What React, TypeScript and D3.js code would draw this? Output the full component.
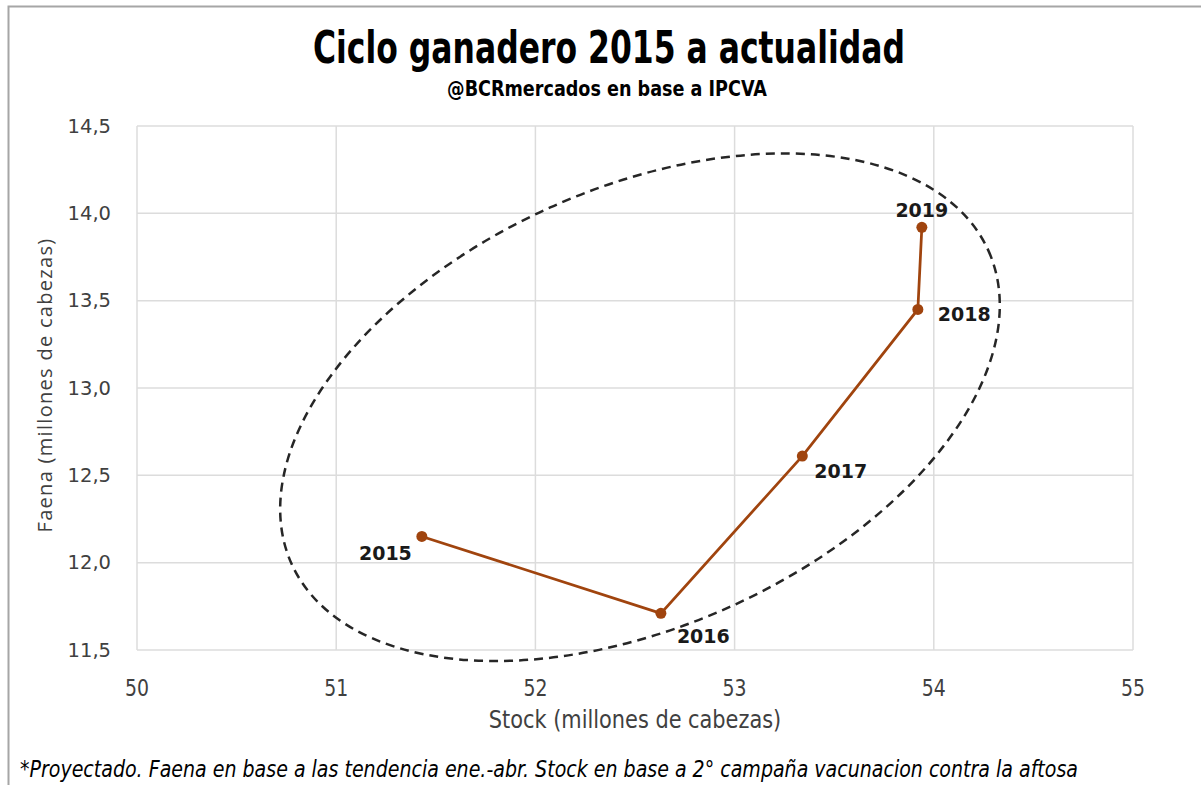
import React, { useEffect, useRef } from 'react';
import * as d3 from 'd3';

// --- Data ---
const years = ['2015', '2016', '2017', '2018', '2019'];
const stock = [51.43, 52.63, 53.34, 53.92, 53.94];
const faena = [12.15, 11.71, 12.61, 13.45, 13.92];

const xTicks = [50, 51, 52, 53, 54, 55];
const yTicks = [11.5, 12.0, 12.5, 13.0, 13.5, 14.0, 14.5];

// label offsets per year: [dx, dy, anchor]
const labelPos: [number, number, string][] = [
    [-10, 24, 'end'],
    [16, 30, 'start'],
    [12, 22, 'start'],
    [20, 12, 'start'],
    [0, -10, 'middle'],
];

// dashed ellipse annotation: centre in data units, radii in px, tilt in degrees
const ellipseCenter = { x: 52.525, y: 12.89 };
const ellipseRadii = { rx: 382, ry: 219 };
const ellipseTilt = -24.2;

const W = 1201;
const H = 785;
const margin = { left: 137, right: 68, top: 126, bottom: 135 };

const lineColor = '#A0440E';
const gridColor = '#dcdcdc';
const sans = '"DejaVu Sans", sans-serif';

// the reference uses a narrow face; squeeze DejaVu horizontally instead
const narrowText = (
    parent: d3.Selection<SVGSVGElement, unknown, null, undefined>,
    cx: number,
    baseline: number,
    squeeze: number,
    anchor: string,
) => parent.append('text')
    .attr('transform', `translate(${cx}, ${baseline}) scale(${squeeze}, 1)`)
    .attr('text-anchor', anchor)
    .style('font-family', sans);

const drawChart = (svgNode: SVGSVGElement) => {
    const svg = d3.select(svgNode);
    svg.selectAll('*').remove();

    const innerW = W - margin.left - margin.right;
    const innerH = H - margin.top - margin.bottom;

    const x = d3.scaleLinear().domain([50, 55]).range([margin.left, margin.left + innerW]);
    const y = d3.scaleLinear().domain([11.5, 14.5]).range([margin.top + innerH, margin.top]);

    svg.append('rect').attr('width', W).attr('height', H).attr('fill', '#fff');

    // frame (only top/left visible in the crop)
    svg.append('path')
        .attr('d', `M8.5,${H} L8.5,6.5 L${W},6.5`)
        .attr('fill', 'none')
        .attr('stroke', '#a6a6a6')
        .attr('stroke-width', 2);

    // --- Grid ---
    const grid = svg.append('g');
    xTicks.forEach(t => {
        grid.append('line')
            .attr('x1', x(t)).attr('x2', x(t))
            .attr('y1', y(14.5)).attr('y2', y(11.5))
            .attr('stroke', gridColor).attr('stroke-width', 1.5);
    });
    yTicks.forEach(t => {
        grid.append('line')
            .attr('x1', x(50)).attr('x2', x(55))
            .attr('y1', y(t)).attr('y2', y(t))
            .attr('stroke', gridColor).attr('stroke-width', 1.5);
    });

    // --- Axis labels ---
    xTicks.forEach(t => {
        narrowText(svg, x(t), y(11.5) + 46, 0.82, 'middle')
            .style('font-size', '23px')
            .style('fill', '#404040')
            .text(String(t));
    });
    yTicks.forEach(t => {
        svg.append('text')
            .attr('x', x(50) - 26).attr('y', y(t))
            .attr('dy', '0.35em')
            .attr('text-anchor', 'end')
            .style('font-family', sans)
            .style('font-size', '19.5px')
            .style('fill', '#404040')
            .text(d3.format('.1f')(t).replace('.', ','));
    });

    narrowText(svg, x(52.5), 728, 0.87, 'middle')
        .style('font-size', '24px')
        .style('fill', '#404040')
        .text('Stock (millones de cabezas)');

    svg.append('text')
        .attr('transform', `translate(52, ${y(13) - 3}) rotate(-90)`)
        .attr('text-anchor', 'middle')
        .style('font-family', '"Open Sans", sans-serif')
        .style('font-size', '20px')
        .style('letter-spacing', '1.3px')
        .style('fill', '#404040')
        .text('Faena (millones de cabezas)');

    // --- Titles ---
    narrowText(svg, 609, 63, 0.715, 'middle')
        .style('font-weight', 'bold')
        .style('font-size', '44px')
        .style('fill', '#000')
        .text('Ciclo ganadero 2015 a actualidad');

    narrowText(svg, 607, 96, 0.8, 'middle')
        .style('font-weight', 'bold')
        .style('font-size', '22px')
        .style('fill', '#000')
        .text('@BCRmercados en base a IPCVA');

    // --- Ellipse annotation ---
    svg.append('ellipse')
        .attr('cx', 0).attr('cy', 0)
        .attr('rx', ellipseRadii.rx).attr('ry', ellipseRadii.ry)
        .attr('transform', `translate(${x(ellipseCenter.x)}, ${y(ellipseCenter.y)}) rotate(${ellipseTilt})`)
        .attr('fill', 'none')
        .attr('stroke', '#262626')
        .attr('stroke-width', 2.5)
        .attr('stroke-dasharray', '9 6');

    // --- Series ---
    const pts = years.map((yr, i) => ({ yr, sx: stock[i], fy: faena[i], i }));
    const line = d3.line<typeof pts[number]>()
        .x(d => x(d.sx))
        .y(d => y(d.fy));

    svg.append('path')
        .datum(pts)
        .attr('d', line)
        .attr('fill', 'none')
        .attr('stroke', lineColor)
        .attr('stroke-width', 2.75);

    svg.selectAll('.pt')
        .data(pts)
        .enter()
        .append('circle')
        .attr('cx', d => x(d.sx))
        .attr('cy', d => y(d.fy))
        .attr('r', 5.5)
        .attr('fill', lineColor);

    svg.selectAll('.lbl')
        .data(pts)
        .enter()
        .append('text')
        .attr('x', d => x(d.sx) + labelPos[d.i][0])
        .attr('y', d => y(d.fy) + labelPos[d.i][1])
        .attr('text-anchor', d => labelPos[d.i][2])
        .style('font-family', sans)
        .style('font-weight', 'bold')
        .style('font-size', '19px')
        .style('fill', '#1a1a1a')
        .text(d => d.yr);

    // --- Footnote ---
    narrowText(svg, 20, 777, 0.827, 'start')
        .style('font-style', 'italic')
        .style('font-size', '23px')
        .style('fill', '#000')
        .text('*Proyectado. Faena en base a las tendencia ene.-abr. Stock en base a 2° campaña vacunacion contra la aftosa');
};

const App: React.FC = () => {
    const svgRef = useRef<SVGSVGElement | null>(null);

    useEffect(() => {
        document.body.style.margin = '0';
        if (svgRef.current) drawChart(svgRef.current);
    }, []);

    return <svg ref={svgRef} width={W} height={H} style={{ display: 'block' }} />;
};

export default App;
